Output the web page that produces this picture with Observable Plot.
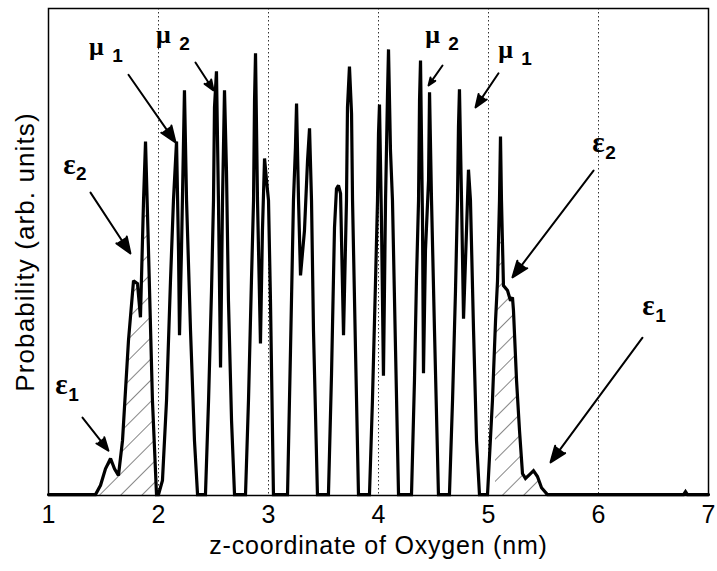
<!DOCTYPE html>
<html><head><meta charset="utf-8">
<script src="https://cdn.jsdelivr.net/npm/d3@7"></script>
<script src="https://cdn.jsdelivr.net/npm/@observablehq/plot@0.6"></script>
<style>body{margin:0;background:#fff} svg{display:block}</style>
</head><body><div id="chart"></div>
<script>
// z-coordinate of oxygen (nm) and probability (arb. units, 0..1 of the axis)
const zCoord = [1.000,1.427,1.473,1.518,1.564,1.600,1.636,1.673,1.727,1.773,1.809,1.836,1.864,1.882,1.909,1.945,1.982,2.000,
2.036,2.073,2.109,2.136,2.164,2.182,2.191,2.209,2.236,2.255,2.291,2.327,2.355,2.427,
2.455,2.482,2.500,2.509,2.527,2.545,2.564,2.582,2.600,2.618,2.636,2.664,2.691,2.791,
2.818,2.845,2.864,2.873,2.882,2.900,2.927,2.945,2.964,2.982,3.000,3.018,3.045,3.173,
3.200,3.227,3.245,3.255,3.273,3.291,3.327,3.355,3.373,3.391,3.409,3.445,3.545,
3.573,3.600,3.618,3.636,3.655,3.682,3.709,3.718,3.736,3.755,3.764,3.791,3.818,3.918,
3.945,3.973,3.991,4.000,4.009,4.027,4.045,4.064,4.082,4.091,4.109,4.127,4.155,4.182,4.300,
4.327,4.345,4.364,4.373,4.382,4.400,4.409,4.427,4.455,4.464,4.482,4.509,4.545,4.645,
4.673,4.700,4.718,4.727,4.736,4.755,4.773,4.800,4.818,4.836,4.864,4.891,4.918,4.991,
5.036,5.064,5.082,5.100,5.109,5.118,5.136,5.173,5.200,5.218,5.227,5.255,5.282,5.309,5.336,5.373,5.409,5.445,5.482,5.536,
6.773,6.791,6.809,7.000];
const prob = [0.002,0.002,0.021,0.055,0.076,0.055,0.041,0.113,0.318,0.441,0.435,0.366,0.606,0.727,0.503,0.195,0.002,0.002,
0.031,0.195,0.441,0.606,0.727,0.503,0.329,0.503,0.832,0.606,0.339,0.113,0.002,0.002,
0.195,0.421,0.606,0.797,0.871,0.606,0.263,0.606,0.832,0.667,0.400,0.154,0.002,0.002,
0.195,0.441,0.606,0.811,0.908,0.606,0.312,0.544,0.692,0.647,0.606,0.400,0.002,0.002,
0.298,0.606,0.715,0.805,0.606,0.452,0.544,0.688,0.754,0.606,0.339,0.002,0.002,
0.250,0.550,0.630,0.637,0.620,0.329,0.606,0.797,0.881,0.784,0.606,0.298,0.002,0.002,
0.195,0.441,0.606,0.743,0.803,0.565,0.246,0.606,0.825,0.916,0.708,0.606,0.298,0.002,0.002,
0.236,0.441,0.606,0.811,0.893,0.565,0.251,0.503,0.647,0.828,0.606,0.339,0.002,0.002,
0.195,0.421,0.606,0.756,0.834,0.606,0.363,0.544,0.669,0.606,0.339,0.113,0.002,0.002,
0.195,0.359,0.441,0.606,0.737,0.606,0.431,0.421,0.400,0.407,0.380,0.236,0.133,0.045,0.035,0.043,0.051,0.039,0.016,0.002,
0.002,0.008,0.002,0.002];

const xTicks = [1,2,3,4,5,6,7];
const gridTicks = [2,3,4,5,6];
const epsRanges = [[1.42,1.99],[5.06,5.55]];

const labelGreek = ["μ","μ","ε","ε","μ","μ","ε","ε"];
const labelSub   = ["1","2","2","1","2","1","2","1"];
const labelZ     = [1.436,2.045,1.190,1.118,4.491,5.155,6.000,6.455];
const labelP     = [0.922,0.946,0.680,0.228,0.946,0.916,0.724,0.390];

const arrowZ1 = [1.727,2.336,1.382,1.309,4.582,5.091,5.955,6.400];
const arrowP1 = [0.864,0.889,0.622,0.160,0.883,0.867,0.667,0.324];
const arrowZ2 = [2.155,2.500,1.745,1.545,4.455,4.882,5.218,5.564];
const arrowP2 = [0.725,0.832,0.497,0.092,0.842,0.797,0.448,0.068];

const xTitle = "z-coordinate of Oxygen (nm)";
const yTitle = "Probability (arb. units)";

const curve = zCoord.map((z, i) => ({z, p: prob[i]}));
const hatchSets = epsRanges.map(([a, b]) => curve.filter(d => d.z >= a && d.z <= b));
const labels = labelGreek.map((g, i) => ({g, s: labelSub[i], z: labelZ[i], p: labelP[i]}));
const arrows = arrowZ1.map((z1, i) => ({z1, p1: arrowP1[i], z2: arrowZ2[i], p2: arrowP2[i]}));

const svg = Plot.plot({
  width: 717,
  height: 571,
  marginLeft: 48,
  marginRight: 9,
  marginTop: 8,
  marginBottom: 76,
  style: {fontFamily: "'Liberation Sans', Arial, sans-serif", fontSize: "25px", background: "#fff", color: "#000"},
  x: {domain: [1, 7]},
  y: {domain: [0, 1], axis: null},
  marks: [
    Plot.gridX(gridTicks, {stroke: "#333", strokeOpacity: 1, strokeWidth: 1, strokeDasharray: "1.5,2.5"}),
    ...hatchSets.map(s => Plot.areaY(s, {x: "z", y: "p", fill: "url(#hatch)", stroke: "none"})),
    Plot.line(curve, {x: "z", y: "p", stroke: "black", strokeWidth: 3.2, strokeLinejoin: "miter", strokeMiterlimit: 2}),
    Plot.frame({stroke: "black", strokeWidth: 1.5}),
    Plot.axisX(xTicks, {tickSize: 0, tickPadding: 10, tickFormat: d => String(d), label: null, fontSize: 25}),
    Plot.text([xTitle], {frameAnchor: "bottom", textAnchor: "middle", dy: 58, text: d => d, fontSize: 25}),
    Plot.text([yTitle], {frameAnchor: "left", textAnchor: "middle", dx: -23, rotate: -90, text: d => d, fontSize: 26}),
    Plot.arrow(arrows, {x1: "z1", y1: "p1", x2: "z2", y2: "p2", stroke: "black", fill: "black", strokeWidth: 2, headLength: 13, headAngle: 42}),
    Plot.text(labels.filter(d => d.g === "μ"), {x: "z", y: "p", text: "g", fontFamily: "'Liberation Serif', serif", fontWeight: "bold", fontSize: 26}),
    Plot.text(labels.filter(d => d.g === "ε"), {x: "z", y: "p", text: "g", fontFamily: "'Liberation Serif', serif", fontWeight: "bold", fontSize: 29}),
    Plot.text(labels.filter(d => d.g === "μ"), {x: "z", y: "p", text: "s", dx: 21, dy: 9, fontWeight: "bold", fontSize: 19}),
    Plot.text(labels.filter(d => d.g === "ε"), {x: "z", y: "p", text: "s", dx: 12, dy: 10, fontWeight: "bold", fontSize: 19})
  ]
});

const s = d3.select(svg);
s.selectAll("text").filter(function() { return this.textContent === xTitle; }).style("letter-spacing", "0.8px");
s.selectAll("text").filter(function() { return this.textContent === yTitle; }).style("letter-spacing", "1.1px");
const pat = s.insert("defs", ":first-child").append("pattern")
  .attr("id", "hatch").attr("patternUnits", "userSpaceOnUse")
  .attr("width", 15).attr("height", 15).attr("patternTransform", "rotate(45)");
pat.append("line").attr("x1", 0).attr("y1", 0).attr("x2", 0).attr("y2", 15)
  .attr("stroke", "#222").attr("stroke-width", 1.1);
document.getElementById("chart").appendChild(svg);
</script>
</body></html>
